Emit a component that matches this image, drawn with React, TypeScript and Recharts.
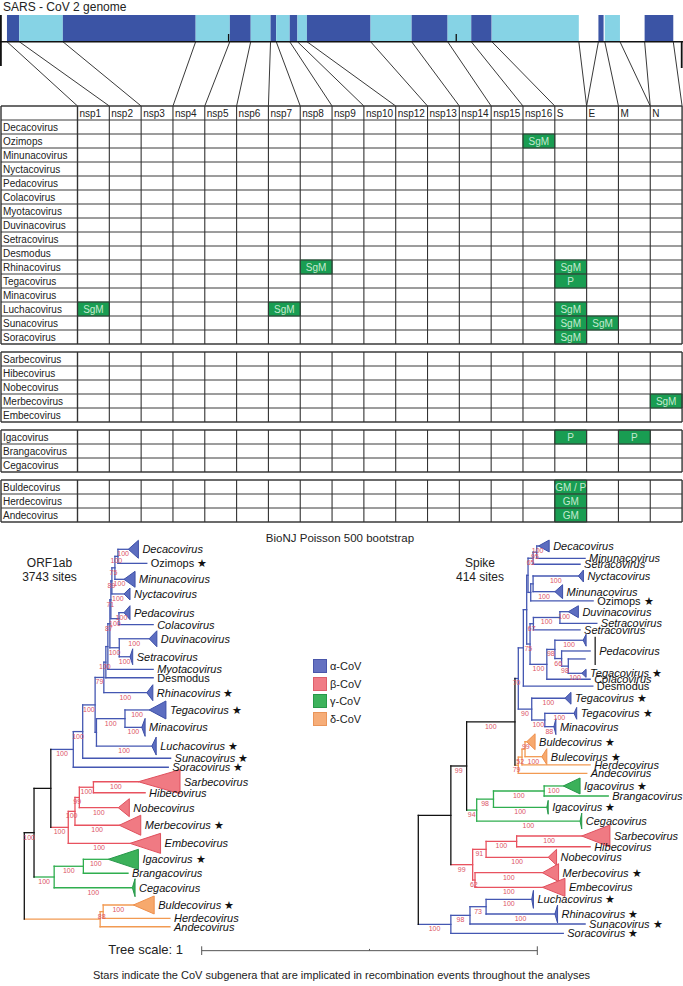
import React from 'react'
import { ComposedChart, XAxis, YAxis, Scatter, ReferenceArea, ReferenceLine } from 'recharts'

const FONT = '"Liberation Sans", Arial, Helvetica, sans-serif'

// ---------- genome (SARS-CoV-2 coordinates, nt) ----------
const NT_DOMAIN = [-40, 29960]
const genes = [
  { name: 'nsp1', start: 266, end: 805, dark: true },
  { name: 'nsp2', start: 806, end: 2719, dark: false },
  { name: 'nsp3', start: 2720, end: 8554, dark: true },
  { name: 'nsp4', start: 8555, end: 10054, dark: false },
  { name: 'nsp5', start: 10055, end: 10972, dark: true },
  { name: 'nsp6', start: 10973, end: 11842, dark: false },
  { name: 'nsp7', start: 11843, end: 12091, dark: true },
  { name: 'nsp8', start: 12092, end: 12685, dark: false },
  { name: 'nsp9', start: 12686, end: 13024, dark: true },
  { name: 'nsp10', start: 13025, end: 13441, dark: false },
  { name: 'nsp12', start: 13442, end: 16236, dark: true },
  { name: 'nsp13', start: 16237, end: 18039, dark: false },
  { name: 'nsp14', start: 18040, end: 19620, dark: true },
  { name: 'nsp15', start: 19621, end: 20658, dark: false },
  { name: 'nsp16', start: 20659, end: 21552, dark: true },
  { name: 'S', start: 21563, end: 25384, dark: false },
  { name: 'E', start: 26245, end: 26472, dark: true },
  { name: 'M', start: 26523, end: 27191, dark: false },
  { name: 'N', start: 28274, end: 29533, dark: true },
]
const genomeTicks = [10000, 20000]
// genome boundary (nt) -> table column boundary
const links = [
  [266, 0], [806, 1], [2720, 2], [8555, 3], [10055, 4], [10973, 5], [11843, 6],
  [12092, 7], [12686, 8], [13025, 9], [13442, 10], [16237, 11], [18040, 12],
  [19621, 13], [20659, 14], [21563, 15], [25384, 16], [26245, 16], [26523, 17],
  [27191, 18], [28274, 18], [29533, 19],
]

// ---------- recombination table ----------
const columns = ['nsp1', 'nsp2', 'nsp3', 'nsp4', 'nsp5', 'nsp6', 'nsp7', 'nsp8', 'nsp9', 'nsp10',
  'nsp12', 'nsp13', 'nsp14', 'nsp15', 'nsp16', 'S', 'E', 'M', 'N']
const alphaRows = ['Decacovirus', 'Ozimops', 'Minunacovirus', 'Nyctacovirus', 'Pedacovirus',
  'Colacovirus', 'Myotacovirus', 'Duvinacovirus', 'Setracovirus', 'Desmodus', 'Rhinacovirus',
  'Tegacovirus', 'Minacovirus', 'Luchacovirus', 'Sunacovirus', 'Soracovirus']
const betaRows = ['Sarbecovirus', 'Hibecovirus', 'Nobecovirus', 'Merbecovirus', 'Embecovirus']
const gammaRows = ['Igacovirus', 'Brangacovirus', 'Cegacovirus']
const deltaRows = ['Buldecovirus', 'Herdecovirus', 'Andecovirus']
const rowGroups = [alphaRows, betaRows, gammaRows, deltaRows]
const hits = [
  { row: 'Ozimops', col: 'nsp16', text: 'SgM' },
  { row: 'Rhinacovirus', col: 'nsp8', text: 'SgM' },
  { row: 'Rhinacovirus', col: 'S', text: 'SgM' },
  { row: 'Tegacovirus', col: 'S', text: 'P' },
  { row: 'Luchacovirus', col: 'nsp1', text: 'SgM' },
  { row: 'Luchacovirus', col: 'nsp7', text: 'SgM' },
  { row: 'Luchacovirus', col: 'S', text: 'SgM' },
  { row: 'Sunacovirus', col: 'S', text: 'SgM' },
  { row: 'Sunacovirus', col: 'E', text: 'SgM' },
  { row: 'Soracovirus', col: 'S', text: 'SgM' },
  { row: 'Merbecovirus', col: 'N', text: 'SgM' },
  { row: 'Igacovirus', col: 'S', text: 'P' },
  { row: 'Igacovirus', col: 'M', text: 'P' },
  { row: 'Buldecovirus', col: 'S', text: 'GM / P' },
  { row: 'Herdecovirus', col: 'S', text: 'GM' },
  { row: 'Andecovirus', col: 'S', text: 'GM' },
]

// ---------- trees ----------
const orfNodes = [
  { id: 'R', parent: null, d: 0, clade: '' },
  { id: 'ABG', parent: 'R', d: 0.029, clade: '', bs: 100 },
  { id: 'AB', parent: 'ABG', d: 0.079, clade: '' },
  { id: 'A0', parent: 'AB', d: 0.146, clade: 'a', bs: 100 },
  { id: 'A1', parent: 'A0', d: 0.174, clade: 'a', bs: 100 },
  { id: 'A2', parent: 'A1', d: 0.211, clade: 'a', bs: 100 },
  { id: 'A3', parent: 'A2', d: 0.237, clade: 'a', bs: 79 },
  { id: 'A4', parent: 'A3', d: 0.243, clade: 'a', bs: 100 },
  { id: 'A5', parent: 'A4', d: 0.249, clade: 'a' },
  { id: 'A6', parent: 'A5', d: 0.255, clade: 'a', bs: 87 },
  { id: 'A7', parent: 'A6', d: 0.258, clade: 'a', bs: 71 },
  { id: 'A8', parent: 'A7', d: 0.261, clade: 'a', bs: 89 },
  { id: 'A9', parent: 'A8', d: 0.27, clade: 'a', bs: 75 },
  { id: 'A10', parent: 'A9', d: 0.279, clade: 'a', bs: 100 },
  { id: 'PC', parent: 'A7', d: 0.282, clade: 'a', bs: 100 },
  { id: 'DS', parent: 'A6', d: 0.283, clade: 'a', bs: 100 },
  { id: 'TML', parent: 'A2', d: 0.215, clade: 'a' },
  { id: 'TM', parent: 'TML', d: 0.3, clade: 'a', bs: 100 },
  { id: 'B0', parent: 'AB', d: 0.131, clade: 'b', bs: 100 },
  { id: 'B1', parent: 'B0', d: 0.151, clade: 'b', bs: 100 },
  { id: 'B2', parent: 'B1', d: 0.164, clade: 'b', bs: 99 },
  { id: 'B3', parent: 'B2', d: 0.206, clade: 'b', bs: 100 },
  { id: 'G0', parent: 'ABG', d: 0.089, clade: 'g', bs: 100 },
  { id: 'G1', parent: 'G0', d: 0.176, clade: 'g', bs: 100 },
  { id: 'D0', parent: 'R', d: 0.226, clade: 'd' },
  { id: 'D1', parent: 'D0', d: 0.235, clade: 'd', bs: 88 },
]
const orfTips = [
  { label: 'Decacovirus', parent: 'A10', d: 0.31, y: 0, w: 0.03, h: 0.62, clade: 'a', bs: 100 },
  { label: 'Ozimops', parent: 'A10', d: 0.365, y: 0.97, clade: 'a', upright: true, star: true },
  { label: 'Minunacovirus', parent: 'A9', d: 0.297, y: 2.07, w: 0.033, h: 0.55, clade: 'a', bs: 100 },
  { label: 'Nyctacovirus', parent: 'A8', d: 0.297, y: 3.08, w: 0.018, h: 0.41, clade: 'a', bs: 100 },
  { label: 'Pedacovirus', parent: 'PC', d: 0.297, y: 4.37, w: 0.018, h: 0.48, clade: 'a', bs: 100 },
  { label: 'Colacovirus', parent: 'PC', d: 0.384, y: 5.2, clade: 'a' },
  { label: 'Duvinacovirus', parent: 'DS', d: 0.372, y: 6.17, w: 0.023, h: 0.55, clade: 'a', bs: 100 },
  { label: 'Setracovirus', parent: 'DS', d: 0.315, y: 7.41, w: 0.008, h: 0.55, clade: 'a', bs: 100 },
  { label: 'Myotacovirus', parent: 'A5', d: 0.384, y: 8.28, clade: 'a' },
  { label: 'Desmodus', parent: 'A4', d: 0.384, y: 8.86, clade: 'a', upright: true },
  { label: 'Rhinacovirus', parent: 'A3', d: 0.365, y: 9.89, w: 0.018, h: 0.55, clade: 'a', star: true, bs: 100 },
  { label: 'Tegacovirus', parent: 'TM', d: 0.372, y: 11.08, w: 0.05, h: 0.62, clade: 'a', star: true, bs: 100 },
  { label: 'Minacovirus', parent: 'TM', d: 0.35, y: 12.28, w: 0.01, h: 0.62, clade: 'a', bs: 100 },
  { label: 'Luchacovirus', parent: 'TML', d: 0.38, y: 13.57, w: 0.013, h: 0.62, clade: 'a', star: true, bs: 100 },
  { label: 'Sunacovirus', parent: 'A1', d: 0.436, y: 14.41, clade: 'a', star: true },
  { label: 'Soracovirus', parent: 'A0', d: 0.429, y: 15.03, clade: 'a', star: true },
  { label: 'Sarbecovirus', parent: 'B3', d: 0.34, y: 16.03, w: 0.124, h: 0.83, clade: 'b', bs: 100 },
  { label: 'Hibecovirus', parent: 'B3', d: 0.36, y: 16.79, clade: 'b' },
  { label: 'Nobecovirus', parent: 'B2', d: 0.28, y: 17.82, w: 0.033, h: 0.62, clade: 'b', bs: 100 },
  { label: 'Merbecovirus', parent: 'B1', d: 0.283, y: 19.03, w: 0.064, h: 0.69, clade: 'b', star: true, bs: 100 },
  { label: 'Embecovirus', parent: 'B0', d: 0.315, y: 20.28, w: 0.091, h: 0.69, clade: 'b', bs: 100 },
  { label: 'Igacovirus', parent: 'G1', d: 0.25, y: 21.38, w: 0.09, h: 0.69, clade: 'g', star: true, bs: 100 },
  { label: 'Brangacovirus', parent: 'G1', d: 0.309, y: 22.34, clade: 'g' },
  { label: 'Cegacovirus', parent: 'G0', d: 0.322, y: 23.34, w: 0.008, h: 0.62, clade: 'g', bs: 100 },
  { label: 'Buldecovirus', parent: 'D1', d: 0.325, y: 24.53, w: 0.062, h: 0.62, clade: 'd', star: true, bs: 100 },
  { label: 'Herdecovirus', parent: 'D1', d: 0.434, y: 25.45, clade: 'd' },
  { label: 'Andecovirus', parent: 'D0', d: 0.434, y: 26.03, clade: 'd' },
]

const spikeNodes = [
  { id: 'S0', parent: null, d: 0, clade: '' },
  { id: 'S1', parent: 'S0', d: 0.097, clade: '' },
  { id: 'S2', parent: 'S1', d: 0.144, clade: '', bs: 99 },
  { id: 'S3', parent: 'S2', d: 0.288, clade: '', bs: 100 },
  { id: 'A1s', parent: 'S3', d: 0.298, clade: 'a', bs: 70 },
  { id: 'U', parent: 'A1s', d: 0.313, clade: 'a' },
  { id: 'Ua', parent: 'U', d: 0.323, clade: 'a' },
  { id: 'Ub', parent: 'Ua', d: 0.327, clade: 'a' },
  { id: 'Ub1', parent: 'Ub', d: 0.342, clade: 'a', bs: 65 },
  { id: 'Ub1a', parent: 'Ub1', d: 0.353, clade: 'a', bs: 95 },
  { id: 'Ub2', parent: 'Ub', d: 0.335, clade: 'a' },
  { id: 'Ub2a', parent: 'Ub2', d: 0.342, clade: 'a' },
  { id: 'Uc', parent: 'Ua', d: 0.333, clade: 'a', bs: 75 },
  { id: 'Uc1', parent: 'Uc', d: 0.343, clade: 'a', bs: 67 },
  { id: 'Uc1a', parent: 'Uc1', d: 0.422, clade: 'a', bs: 100 },
  { id: 'Uc2a', parent: 'Uc', d: 0.383, clade: 'a', bs: 100 },
  { id: 'Uc2b', parent: 'Uc2a', d: 0.407, clade: 'a', bs: 98 },
  { id: 'Uc2c', parent: 'Uc2b', d: 0.427, clade: 'a', bs: 66 },
  { id: 'Uc2d', parent: 'Uc2c', d: 0.447, clade: 'a', bs: 98 },
  { id: 'TT', parent: 'A1s', d: 0.338, clade: 'a', bs: 90 },
  { id: 'TTM', parent: 'TT', d: 0.377, clade: 'a', bs: 100 },
  { id: 'SD0', parent: 'S3', d: 0.298, clade: 'd', bs: 79 },
  { id: 'SD1', parent: 'SD0', d: 0.309, clade: 'd', bs: 52 },
  { id: 'SD2', parent: 'SD1', d: 0.318, clade: 'd' },
  { id: 'SG', parent: 'S2', d: 0.174, clade: 'g', bs: 94 },
  { id: 'SG1', parent: 'SG', d: 0.224, clade: 'g', bs: 98 },
  { id: 'SG2', parent: 'SG1', d: 0.375, clade: 'g', bs: 100 },
  { id: 'SB', parent: 'S1', d: 0.162, clade: 'b', bs: 99 },
  { id: 'SB1', parent: 'SB', d: 0.202, clade: 'b', bs: 91 },
  { id: 'SB1a', parent: 'SB1', d: 0.293, clade: 'b', bs: 100 },
  { id: 'SB2', parent: 'SB', d: 0.169, clade: 'b', bs: 62 },
  { id: 'SA', parent: 'S0', d: 0.097, clade: 'a', bs: 100 },
  { id: 'SA1', parent: 'SA', d: 0.154, clade: 'a', bs: 98 },
  { id: 'SA2', parent: 'SA1', d: 0.202, clade: 'a', bs: 73 },
]
const spikeTips = [
  { label: 'Decacovirus', parent: 'Ub1a', d: 0.358, y: 0, w: 0.032, h: 0.41, clade: 'a', bs: 100 },
  { label: 'Minunacovirus', parent: 'Ub1a', d: 0.497, y: 0.85, clade: 'a' },
  { label: 'Setracovirus', parent: 'Ub1', d: 0.482, y: 1.26, clade: 'a' },
  { label: 'Nyctacovirus', parent: 'Ub2a', d: 0.477, y: 2.07, w: 0.015, h: 0.41, clade: 'a', bs: 100 },
  { label: 'Minunacovirus', parent: 'Ub2a', d: 0.407, y: 3.15, w: 0.023, h: 0.48, clade: 'a', bs: 100 },
  { label: 'Ozimops', parent: 'Ub2', d: 0.521, y: 3.79, clade: 'a', upright: true, star: true },
  { label: 'Duvinacovirus', parent: 'Uc1a', d: 0.447, y: 4.53, w: 0.03, h: 0.41, clade: 'a', bs: 100 },
  { label: 'Setracovirus', parent: 'Uc1a', d: 0.532, y: 5.33, clade: 'a' },
  { label: 'Setracovirus', parent: 'Uc1', d: 0.482, y: 5.79, clade: 'a' },
  { label: '', parent: 'Uc2b', d: 0.491, y: 6.5, w: 0.009, h: 0.41, clade: 'a', bs: 100 },
  { label: '', parent: 'Uc2c', d: 0.512, y: 7.24, clade: 'a' },
  { label: '', parent: 'Uc2d', d: 0.497, y: 7.79, clade: 'a' },
  { label: 'Tegacovirus', parent: 'Uc2d', d: 0.487, y: 8.78, w: 0.013, h: 0.28, clade: 'a', star: true, bs: 100 },
  { label: 'Colacovirus', parent: 'Uc2a', d: 0.512, y: 9.19, clade: 'a' },
  { label: 'Desmodus', parent: 'U', d: 0.52, y: 9.66, clade: 'a', upright: true },
  { label: 'Tegacovirus', parent: 'TT', d: 0.437, y: 10.5, w: 0.018, h: 0.41, clade: 'a', star: true, bs: 100 },
  { label: 'Tegacovirus', parent: 'TTM', d: 0.464, y: 11.54, w: 0.008, h: 0.41, clade: 'a', star: true, bs: 100 },
  { label: 'Minacovirus', parent: 'TTM', d: 0.404, y: 12.46, w: 0.006, h: 0.55, clade: 'a', bs: 88 },
  { label: 'Buldecovirus', parent: 'SD2', d: 0.323, y: 13.5, w: 0.025, h: 0.55, clade: 'd', star: true, bs: 99 },
  { label: 'Bulecovirus', parent: 'SD2', d: 0.368, y: 14.53, w: 0.015, h: 0.55, clade: 'd', star: true, bs: 100 },
  { label: 'Herdecovirus', parent: 'SD1', d: 0.512, y: 15.1, clade: 'd' },
  { label: 'Andecovirus', parent: 'SD0', d: 0.502, y: 15.68, clade: 'd' },
  { label: 'Igacovirus', parent: 'SG2', d: 0.432, y: 16.55, w: 0.05, h: 0.55, clade: 'g', star: true, bs: 100 },
  { label: 'Brangacovirus', parent: 'SG2', d: 0.566, y: 17.24, clade: 'g' },
  { label: 'Igacovirus', parent: 'SG1', d: 0.383, y: 18.02, w: 0.004, h: 0.48, clade: 'g', star: true, bs: 100 },
  { label: 'Cegacovirus', parent: 'SG', d: 0.482, y: 18.97, w: 0.005, h: 0.55, clade: 'g', bs: 100 },
  { label: 'Sarbecovirus', parent: 'SB1a', d: 0.487, y: 20, w: 0.084, h: 0.76, clade: 'b', bs: 100 },
  { label: 'Hibecovirus', parent: 'SB1a', d: 0.512, y: 20.74, clade: 'b' },
  { label: 'Nobecovirus', parent: 'SB1', d: 0.387, y: 21.47, w: 0.025, h: 0.55, clade: 'b', bs: 100 },
  { label: 'Merbecovirus', parent: 'SB2', d: 0.37, y: 22.53, w: 0.048, h: 0.62, clade: 'b', star: true, bs: 100 },
  { label: 'Embecovirus', parent: 'SB2', d: 0.37, y: 23.54, w: 0.067, h: 0.62, clade: 'b', bs: 100 },
  { label: 'Luchacovirus', parent: 'SA2', d: 0.338, y: 24.37, w: 0.005, h: 0.62, clade: 'a', star: true, bs: 100 },
  { label: 'Rhinacovirus', parent: 'SA2', d: 0.407, y: 25.38, w: 0.008, h: 0.62, clade: 'a', star: true, bs: 100 },
  { label: 'Sunacovirus', parent: 'SA1', d: 0.497, y: 26.07, clade: 'a', star: true },
  { label: 'Soracovirus', parent: 'SA', d: 0.432, y: 26.71, clade: 'a', star: true },
]
const spikeBrackets = [{ label: 'Pedacovirus', d: 0.527, from: 6.26, to: 8.21 }]

const legendItems = [
  { name: 'α-CoV', fill: '#6571c1', stroke: '#4a56aa' },
  { name: 'β-CoV', fill: '#f07c86', stroke: '#dd5f6b' },
  { name: 'γ-CoV', fill: '#3db35c', stroke: '#28984a' },
  { name: 'δ-CoV', fill: '#f6ad78', stroke: '#e9955a' },
]

const LINE = { a: '#4457b2', b: '#e8525f', g: '#2fae4f', d: '#f29a52', '': '#111' }
const FILL = { a: '#5c6dc0', b: '#f07a83', g: '#3bb15a', d: '#f7a96d' }
const EDGE = { a: '#3e50a8', b: '#e0505d', g: '#27984a', d: '#ee8f4c' }
const BOOT = '#dc5466'

// ---------- layout of the two panels ----------
const COL_W = 31.82
const COL0 = 77.5
const COL_DOMAIN = [-COL0 / COL_W, (683 - COL0) / COL_W]
const LABEL_X0 = (1 - COL0) / COL_W
const ROW_H = 14
const TABLE_TOP = 106
const ROW_DOMAIN = [-TABLE_TOP / ROW_H, (530 - TABLE_TOP) / ROW_H]
const GROUP_GAP = 8 / ROW_H
const BAR_TOP = -6.5
const BAR_BOTTOM = -4.593
const TICK_TOP = -5.143

const PX_PER_UNIT = 335.6
const SLOT = 14.5
const ORF_X = [-24.3 / PX_PER_UNIT, (683 - 24.3) / PX_PER_UNIT]
const SPK_X = [-418.3 / PX_PER_UNIT, (683 - 418.3) / PX_PER_UNIT]
const ORF_Y = [-19.3 / SLOT, (456 - 19.3) / SLOT]
const SPK_Y = [-16 / SLOT, (456 - 16) / SLOT]
const SCALE_X0 = 0.5286
const SCALE_Y = 27.68

function layoutTree(nodes: any[], tips: any[]) {
  const byId = new Map<string, any>()
  nodes.forEach((n) => byId.set(n.id, { ...n, kids: [] as any[] }))
  const leaves = tips.map((t, i) => ({ ...t, id: `tip${i}` }))
  byId.forEach((n) => { if (n.parent) byId.get(n.parent).kids.push(n) })
  leaves.forEach((t) => byId.get(t.parent).kids.push(t))
  const place = (n: any): number => {
    if (!n.kids) return n.y
    const ys = n.kids.map(place)
    n.y = (Math.min(...ys) + Math.max(...ys)) / 2
    return n.y
  }
  const root = nodes.find((n) => n.parent === null)
  place(byId.get(root.id))
  return { byId, leaves }
}

const triangle = (clade: string) => (p: any) => {
  const { x, y, width, height } = p
  return (
    <path
      d={`M${x},${y + height / 2}L${x + width},${y}L${x + width},${y + height}Z`}
      fill={FILL[clade]}
      stroke={EDGE[clade]}
      strokeWidth={1}
    />
  )
}

const tipText = (p: any) => (
  <text x={p.cx + 4} y={p.cy} dy="0.36em" fontSize={11} fill="#111" fontFamily={FONT}
    fontStyle={p.payload.upright ? 'normal' : 'italic'}>
    {p.payload.text}
    {p.payload.star ? <tspan fontStyle="normal" fontSize={11}> ★</tspan> : null}
  </text>
)

const bootText = (p: any) => (
  <text x={p.cx} y={p.cy} dy={7} textAnchor="middle" fontSize={7} fill={BOOT} fontFamily={FONT}>
    {p.payload.text}
  </text>
)

function treeMarks(nodes: any[], tips: any[], xId: string, yId: string, tag: string) {
  const { byId, leaves } = layoutTree(nodes, tips)
  const out: any[] = []
  const all = [...Array.from(byId.values()), ...leaves]
  all.forEach((n, i) => {
    if (!n.parent) return
    const p = byId.get(n.parent)
    out.push(
      <ReferenceLine key={`${tag}h${i}`} xAxisId={xId} yAxisId={yId} ifOverflow="visible"
        segment={[{ x: p.d, y: n.y }, { x: n.d, y: n.y }]}
        stroke={LINE[n.clade]} strokeWidth={1.3} strokeLinecap="square" />
    )
  })
  Array.from(byId.values()).forEach((n, i) => {
    const ys = n.kids.map((k: any) => k.y)
    out.push(
      <ReferenceLine key={`${tag}v${i}`} xAxisId={xId} yAxisId={yId} ifOverflow="visible"
        segment={[{ x: n.d, y: Math.min(...ys) }, { x: n.d, y: Math.max(...ys) }]}
        stroke={LINE[n.clade]} strokeWidth={1.3} strokeLinecap="square" />
    )
  })
  leaves.filter((t) => t.w).forEach((t, i) => {
    out.push(
      <ReferenceArea key={`${tag}t${i}`} xAxisId={xId} yAxisId={yId} ifOverflow="visible"
        x1={t.d} x2={t.d + t.w} y1={t.y - t.h} y2={t.y + t.h} shape={triangle(t.clade)} />
    )
  })
  const labels = leaves.filter((t) => t.label).map((t) => ({
    x: t.d + (t.w || 0), y: t.y, text: t.label, upright: t.upright, star: t.star,
  }))
  const boots = all.filter((n) => n.bs && n.parent).map((n) => ({
    x: (byId.get(n.parent).d + n.d) / 2, y: n.y, text: String(n.bs),
  }))
  out.push(
    <Scatter key={`${tag}boot`} xAxisId={xId} yAxisId={yId} data={boots} shape={bootText} isAnimationActive={false} />,
    <Scatter key={`${tag}lab`} xAxisId={xId} yAxisId={yId} data={labels} shape={tipText} isAnimationActive={false} />
  )
  return out
}

const headerText = (p: any) => (
  <text x={p.cx + 2} y={p.cy} dy="0.36em" fontSize={10} fill="#222" fontFamily={FONT}>
    {p.payload.text}
  </text>
)

function GenomeTable() {
  const rowTop: Record<string, number> = {}
  const boxes: { top: number; rows: number }[] = []
  let cursor = 1
  rowGroups.forEach((g, gi) => {
    const top = gi === 0 ? 0 : cursor
    g.forEach((name) => { rowTop[name] = cursor; cursor += 1 })
    boxes.push({ top, rows: g.length + (gi === 0 ? 1 : 0) })
    cursor += GROUP_GAP
  })
  const ntToCol = (nt: number) =>
    COL_DOMAIN[0] + ((nt - NT_DOMAIN[0]) / (NT_DOMAIN[1] - NT_DOMAIN[0])) * (COL_DOMAIN[1] - COL_DOMAIN[0])
  const colEdges = [LABEL_X0, ...columns.map((_, i) => i), columns.length]

  const grid: any[] = []
  boxes.forEach((b, bi) => {
    for (let r = 0; r <= b.rows; r++) {
      grid.push(
        <ReferenceLine key={`gh${bi}-${r}`} xAxisId="col" yAxisId="row" ifOverflow="visible"
          segment={[{ x: LABEL_X0, y: b.top + r }, { x: columns.length, y: b.top + r }]}
          stroke="#3a3a3a" strokeWidth={r === 0 || r === b.rows ? 1.4 : 1} />
      )
    }
    colEdges.forEach((c, ci) => {
      grid.push(
        <ReferenceLine key={`gv${bi}-${ci}`} xAxisId="col" yAxisId="row" ifOverflow="visible"
          segment={[{ x: c, y: b.top }, { x: c, y: b.top + b.rows }]}
          stroke="#333" strokeWidth={ci === 0 || ci === 1 || ci === colEdges.length - 1 ? 1.4 : 1.1} />
      )
    })
  })

  const headers = columns.map((c, i) => ({ x: i, y: 0.5, text: c }))
  const rowLabels = Object.keys(rowTop).map((name) => ({ x: LABEL_X0, y: rowTop[name] + 0.5, text: name }))

  return (
    <ComposedChart width={683} height={530} margin={{ top: 0, right: 0, bottom: 0, left: 0 }}>
      <XAxis xAxisId="col" dataKey="x" type="number" domain={COL_DOMAIN} allowDataOverflow hide />
      <XAxis xAxisId="nt" dataKey="x" type="number" domain={NT_DOMAIN} allowDataOverflow hide />
      <YAxis yAxisId="row" dataKey="y" type="number" domain={ROW_DOMAIN} allowDataOverflow reversed hide />
      {genes.map((g) => (
        <ReferenceArea key={g.name} xAxisId="nt" yAxisId="row" x1={g.start} x2={g.end}
          y1={BAR_TOP} y2={BAR_BOTTOM} fill={g.dark ? '#3b54a5' : '#86d3e5'} fillOpacity={1} stroke="none" />
      ))}
      <ReferenceLine xAxisId="nt" yAxisId="row" y={BAR_BOTTOM} stroke="#111" strokeWidth={1.6} />
      {genomeTicks.map((t) => (
        <ReferenceLine key={t} xAxisId="nt" yAxisId="row" segment={[{ x: t, y: TICK_TOP }, { x: t, y: BAR_BOTTOM }]}
          stroke="#111" strokeWidth={1.3} />
      ))}
      <ReferenceLine xAxisId="nt" yAxisId="row" ifOverflow="visible"
        segment={[{ x: 0, y: BAR_TOP }, { x: 0, y: -2.857 }]} stroke="#111" strokeWidth={1.8} />
      <ReferenceLine xAxisId="nt" yAxisId="row" ifOverflow="visible"
        segment={[{ x: 29903, y: BAR_BOTTOM }, { x: 29903, y: -2.714 }]} stroke="#111" strokeWidth={1.8} />
      {links.map(([nt, c], i) => (
        <ReferenceLine key={`l${i}`} xAxisId="col" yAxisId="row" ifOverflow="visible"
          segment={[{ x: ntToCol(nt), y: BAR_BOTTOM }, { x: c, y: 0 }]} stroke="#222" strokeWidth={0.9} />
      ))}
      {hits.map((h, i) => {
        const c = columns.indexOf(h.col)
        return (
          <ReferenceArea key={`hit${i}`} xAxisId="col" yAxisId="row" x1={c} x2={c + 1}
            y1={rowTop[h.row]} y2={rowTop[h.row] + 1} fill="#199d52" fillOpacity={1} stroke="#13803f"
            label={{ value: h.text, position: 'center', fill: '#c4ead0', fontSize: 10, fontFamily: FONT }} />
        )
      })}
      {grid}
      <Scatter xAxisId="col" yAxisId="row" data={headers} shape={headerText} isAnimationActive={false} />
      <Scatter xAxisId="col" yAxisId="row" data={rowLabels} shape={headerText} isAnimationActive={false} />
    </ComposedChart>
  )
}

function Trees() {
  return (
    <ComposedChart width={683} height={456} margin={{ top: 0, right: 0, bottom: 0, left: 0 }}>
      <XAxis xAxisId="orf" dataKey="x" type="number" domain={ORF_X} allowDataOverflow hide />
      <XAxis xAxisId="spk" dataKey="x" type="number" domain={SPK_X} allowDataOverflow hide />
      <YAxis yAxisId="orfY" dataKey="y" type="number" domain={ORF_Y} allowDataOverflow reversed hide />
      <YAxis yAxisId="spkY" dataKey="y" type="number" domain={SPK_Y} allowDataOverflow reversed hide />
      {treeMarks(orfNodes, orfTips, 'orf', 'orfY', 'o')}
      {treeMarks(spikeNodes, spikeTips, 'spk', 'spkY', 's')}
      {spikeBrackets.map((b) => (
        <ReferenceLine key={b.label} xAxisId="spk" yAxisId="spkY" ifOverflow="visible"
          segment={[{ x: b.d, y: b.from }, { x: b.d, y: b.to }]} stroke="#111" strokeWidth={1.2} />
      ))}
      <Scatter xAxisId="spk" yAxisId="spkY" isAnimationActive={false}
        data={spikeBrackets.map((b) => ({ x: b.d, y: (b.from + b.to) / 2, text: b.label }))} shape={tipText} />
      {/* tree scale: one unit of substitution distance */}
      <ReferenceLine xAxisId="orf" yAxisId="orfY" ifOverflow="visible"
        segment={[{ x: SCALE_X0, y: SCALE_Y }, { x: SCALE_X0 + 1, y: SCALE_Y }]} stroke="#555" strokeWidth={1} />
      {[0, 1].map((k) => (
        <ReferenceLine key={`sc${k}`} xAxisId="orf" yAxisId="orfY" ifOverflow="visible"
          segment={[{ x: SCALE_X0 + k, y: SCALE_Y - 0.3 }, { x: SCALE_X0 + k, y: SCALE_Y + 0.3 }]} stroke="#555" strokeWidth={1} />
      ))}
      <ReferenceLine xAxisId="orf" yAxisId="orfY" ifOverflow="visible"
        segment={[{ x: SCALE_X0 + 0.5, y: SCALE_Y - 0.12 }, { x: SCALE_X0 + 0.5, y: SCALE_Y }]} stroke="#555" strokeWidth={1} />
    </ComposedChart>
  )
}

const abs = (left: number, top: number, extra: any = {}) => ({ position: 'absolute' as const, left, top, ...extra })

export default function App() {
  return (
    <div style={{ position: 'absolute', left: 0, top: 0, width: 683, height: 986, background: '#fff', fontFamily: FONT, color: '#111', overflow: 'hidden' }}>
      <div style={abs(3, 0, { fontSize: 12, lineHeight: '14px', color: '#222' })}>SARS - CoV 2 genome</div>
      <div style={abs(0, 0)}><GenomeTable /></div>
      <div style={abs(0, 530)}><Trees /></div>
      <div style={abs(240, 531, { width: 200, textAlign: 'center', fontSize: 11.5, lineHeight: '14px', color: '#222' })}>
        BioNJ Poisson 500 bootstrap
      </div>
      <div style={abs(0, 556, { width: 99, textAlign: 'center', fontSize: 12, lineHeight: '14px', color: '#222' })}>
        ORF1ab<br />3743 sites
      </div>
      <div style={abs(430, 556, { width: 100, textAlign: 'center', fontSize: 12, lineHeight: '14px', color: '#222' })}>
        Spike<br />414 sites
      </div>
      <div style={abs(313, 657)}>
        {legendItems.map((it) => (
          <div key={it.name} style={{ display: 'flex', alignItems: 'center', height: 17.8 }}>
            <span style={{ display: 'inline-block', width: 12, height: 12, background: it.fill, border: `1px solid ${it.stroke}` }} />
            <span style={{ marginLeft: 3, fontSize: 11, color: '#222' }}>{it.name}</span>
          </div>
        ))}
      </div>
      <div style={abs(60, 942, { width: 123, textAlign: 'right', fontSize: 13, lineHeight: '16px', color: '#222' })}>
        Tree scale: 1
      </div>
      <div style={abs(0, 968, { width: 683, textAlign: 'center', fontSize: 11, lineHeight: '14px', color: '#222' })}>
        Stars indicate the CoV subgenera that are implicated in recombination events throughout the analyses
      </div>
    </div>
  )
}
